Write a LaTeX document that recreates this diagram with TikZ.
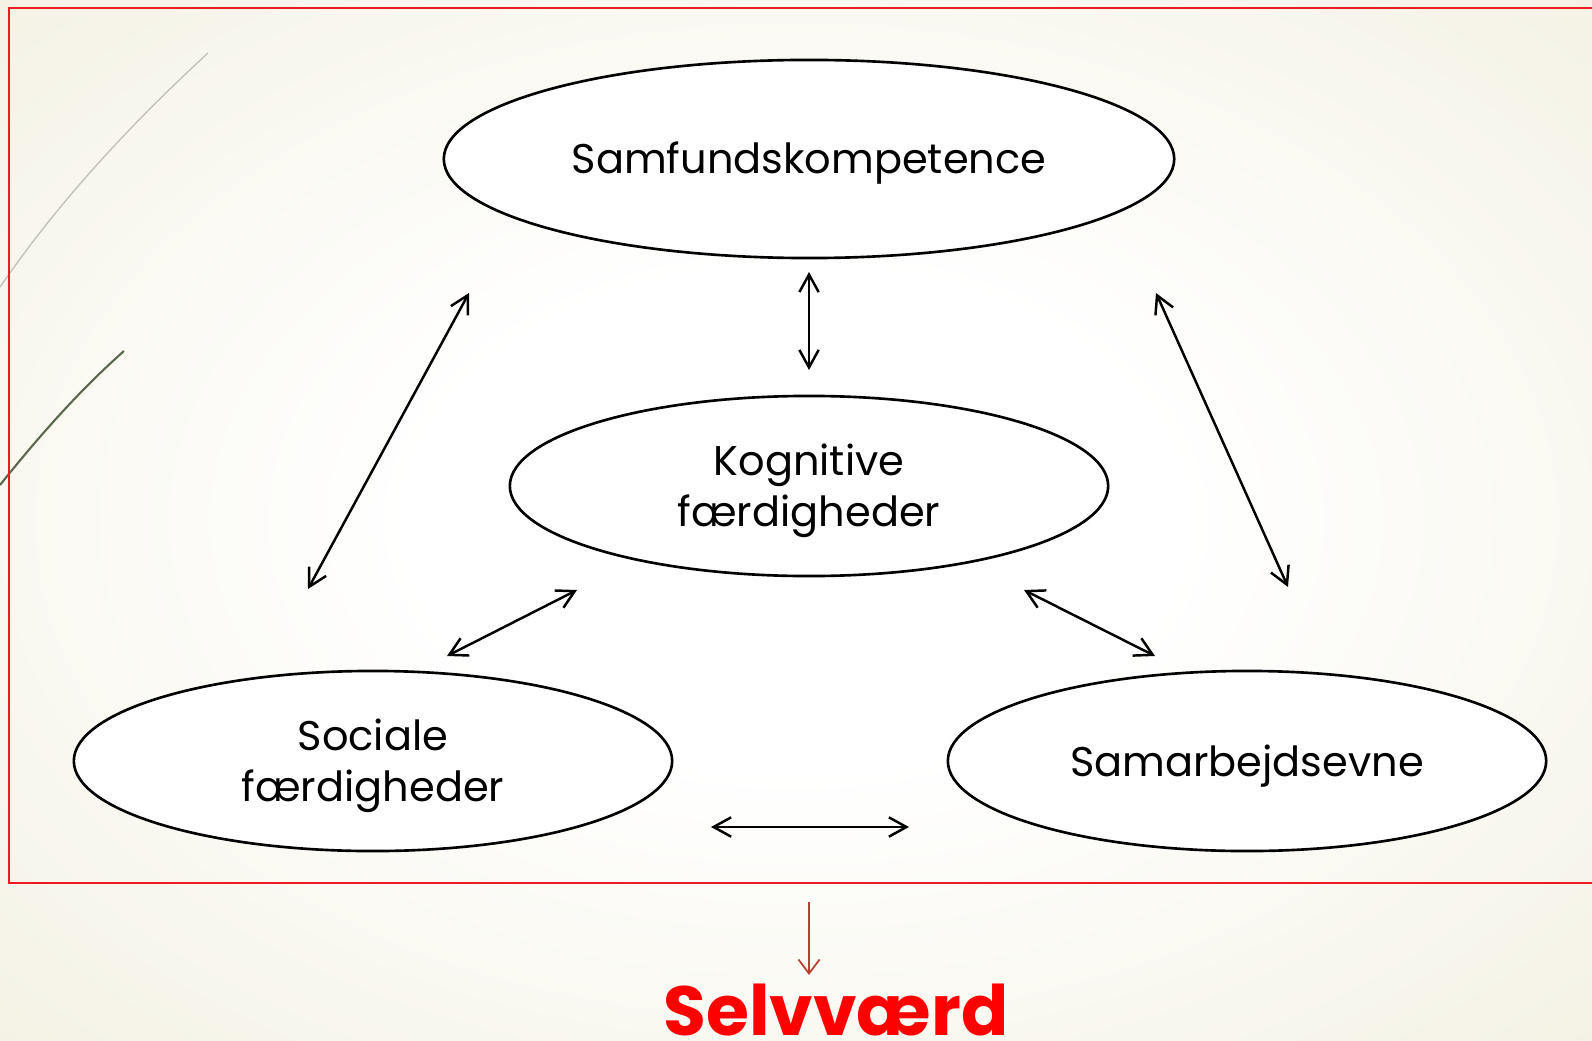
\documentclass[tikz,border=0pt]{standalone}
\usepackage{fontspec}
\setmainfont{Poppins}
\usetikzlibrary{shapes.geometric,arrows.meta,positioning}
\definecolor{slidebeige}{RGB}{235,231,206}
\definecolor{framered}{RGB}{237,28,36}
\definecolor{selvred}{RGB}{255,0,0}
\definecolor{pointerbrown}{RGB}{184,64,48}
\definecolor{leafgreen}{RGB}{92,104,78}
\definecolor{leafgrey}{RGB}{195,195,185}
\pgfdeclareradialshading{slideglow}{\pgfpoint{0bp}{0bp}}{color(0bp)=(white); color(12bp)=(white); color(56bp)=(slidebeige); color(80bp)=(slidebeige)}
\newcommand{\bubbletop}{\rule{0pt}{11.6pt}}

\tikzset{
  bubble/.style={ellipse, draw=black, line width=0.75pt, fill=white,
    minimum width=5.98cm, minimum height=1.80cm, inner sep=0pt,
    align=center, font=\fontsize{11.8}{14.6}\selectfont},
  biarrow/.style={{Straight Barb[length=5pt,width=5.5pt]}-{Straight Barb[length=5pt,width=5.5pt]},
    line width=0.7pt},
}

\begin{document}
\begin{tikzpicture}[x=0.01cm, y=-0.01cm]
    \useasboundingbox (0,0) rectangle (1592,1040);

    % Background
    \shade[shading=slideglow] (0,0) rectangle (1592,1040);

    % Decorative strokes
    \draw[leafgrey, line width=0.4pt] (0,287) .. controls (60,200) and (130,125) .. (208,53);
    \draw[leafgreen, line width=0.6pt] (0,485) .. controls (40,435) and (80,390) .. (124,351);

    % Frame
    \draw[framered, line width=0.6pt] (1592,8) -- (9,8) -- (9,883) -- (1592,883);

    % Competences
    \node[bubble, minimum width=7.30cm, minimum height=1.98cm] (samf) at (809,159) {\bubbletop Samfundskompetence};
    \node[bubble] (kogn) at (809,486) {\bubbletop Kognitive\\færdigheder};
    \node[bubble] (soc) at (373,761) {\bubbletop Sociale\\færdigheder};
    \node[bubble] (samarb) at (1247,761) {\bubbletop Samarbejdsevne};

    % Arrow ends
    \coordinate (samfS) at (809,272);
    \coordinate (kognN) at (809,370);
    \coordinate (samfSW) at (469,293);
    \coordinate (socNE) at (308,589);
    \coordinate (samfSE) at (1156,293);
    \coordinate (samarbN) at (1288,587);
    \coordinate (kognSW) at (577,590);
    \coordinate (socE) at (447,656);
    \coordinate (kognSE) at (1024,590);
    \coordinate (samarbNW) at (1155,656);
    \coordinate (socR) at (711,827);
    \coordinate (samarbL) at (909,827);

    % Relations
    \draw[biarrow] (samfS) -- (kognN);
    \draw[biarrow] (samfSW) -- (socNE);
    \draw[biarrow] (samfSE) -- (samarbN);
    \draw[biarrow] (kognSW) -- (socE);
    \draw[biarrow] (kognSE) -- (samarbNW);
    \draw[biarrow] (socR) -- (samarbL);

    % Result
    \node[anchor=base, text=selvred, inner sep=0pt, font=\fontsize{19.8}{24}\selectfont\bfseries] (selv) at (836,1035) {Selvværd};
    \coordinate (frameB) at (809,902);
    \coordinate (selvTop) at (809,975);
    \draw[pointerbrown, line width=0.5pt, -{Straight Barb[length=4pt,width=6pt]}] (frameB) -- (selvTop);
\end{tikzpicture}
\end{document}
